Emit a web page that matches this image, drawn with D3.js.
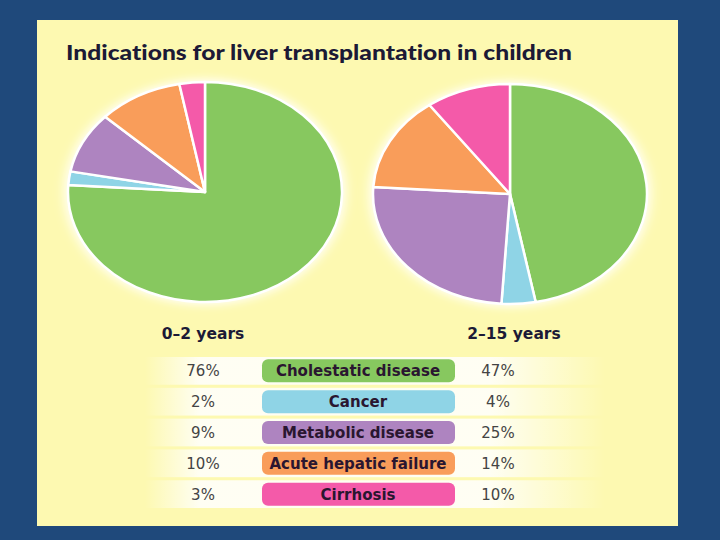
<!DOCTYPE html>
<html>
<head>
<meta charset="utf-8">
<script src="https://cdn.jsdelivr.net/npm/d3@7"></script>
<style>
    body { margin: 0; background: #1f497b; }
    svg { display: block; }
</style>
</head>
<body>
<div id="chart"></div>
<script>
// data
var causes = ["Cholestatic disease", "Cancer", "Metabolic disease", "Acute hepatic failure", "Cirrhosis"];
var young = [76, 2, 9, 10, 3];   // 0-2 years
var older = [47, 4, 25, 14, 10]; // 2-15 years
var groups = ["0\u20132 years", "2\u201315 years"];
var colours = ["#87c85f", "#8fd4e6", "#ae84c0", "#f99d5a", "#f45aa9"];

var width = 720, height = 540;

var svg = d3.select("#chart")
    .append("svg")
    .attr("width", width)
    .attr("height", height);

var defs = svg.append("defs");
defs.append("filter").attr("id", "glow")
    .attr("x", "-20%").attr("y", "-20%").attr("width", "140%").attr("height", "140%")
    .append("feGaussianBlur").attr("stdDeviation", 6);

var bandGrad = defs.append("linearGradient").attr("id", "band");
bandGrad.append("stop").attr("offset", "0%").attr("stop-color", "#fff").attr("stop-opacity", 0);
bandGrad.append("stop").attr("offset", "12%").attr("stop-color", "#fff").attr("stop-opacity", 0.85);
bandGrad.append("stop").attr("offset", "75%").attr("stop-color", "#fff").attr("stop-opacity", 0.85);
bandGrad.append("stop").attr("offset", "100%").attr("stop-color", "#fff").attr("stop-opacity", 0);

// panel
svg.append("rect")
    .attr("x", 37).attr("y", 20)
    .attr("width", 641).attr("height", 506)
    .attr("fill", "#fdf9b1");

svg.append("text")
    .attr("x", 66).attr("y", 60)
    .style("font-family", "Lato, sans-serif")
    .style("font-weight", "900")
    .style("font-size", "21px")
    .style("font-variant-ligatures", "none")
    .attr("textLength", 506)
    .attr("lengthAdjust", "spacingAndGlyphs")
    .attr("fill", "#1c1a36")
    .text("Indications for liver transplantation in children");

// pies
var rx = 137, ry = 110;
var pie = d3.pie().sort(null).value(function (d) { return d; });
var arc = d3.arc().innerRadius(0).outerRadius(rx);
var centres = [[205, 192], [510, 194]];

[young, older].forEach(function (values, k) {
    var g = svg.append("g")
        .attr("transform", "translate(" + centres[k][0] + "," + centres[k][1] + ") scale(1," + (ry / rx) + ")");

    g.append("circle")
        .attr("r", rx + 3)
        .attr("fill", "#fff")
        .attr("filter", "url(#glow)");

    g.selectAll(".slice")
        .data(pie(values))
        .enter().append("path")
        .attr("class", "slice")
        .attr("d", arc)
        .attr("fill", function (d, i) { return colours[i]; })
        .attr("stroke", "#fff")
        .attr("stroke-width", 2.5)
        .attr("stroke-linejoin", "round")
        .attr("vector-effect", "non-scaling-stroke");
});

// group captions
var colX = [203, 514];
svg.selectAll(".group")
    .data(groups)
    .enter().append("text")
    .attr("class", "group")
    .attr("x", function (d, i) { return colX[i]; })
    .attr("y", 339)
    .attr("text-anchor", "middle")
    .style("font-family", "'DejaVu Sans', sans-serif")
    .style("font-weight", "bold")
    .style("font-size", "15.5px")
    .attr("fill", "#1c1a36")
    .text(function (d) { return d; });

// table
var y = d3.scaleBand()
    .domain(causes)
    .range([357, 508])
    .paddingInner(0.1);

var rows = svg.selectAll(".row")
    .data(causes)
    .enter().append("g")
    .attr("class", "row")
    .attr("transform", function (d) { return "translate(0," + y(d) + ")"; });

var bh = y.bandwidth();

rows.append("rect")
    .attr("x", 145).attr("width", 460)
    .attr("height", bh)
    .attr("fill", "url(#band)");

rows.append("rect")
    .attr("x", 262).attr("y", bh / 2 - 11.5)
    .attr("width", 193).attr("height", 23)
    .attr("rx", 6)
    .attr("fill", function (d, i) { return colours[i]; });

rows.append("text")
    .attr("x", 358).attr("y", bh / 2 + 5.5)
    .attr("text-anchor", "middle")
    .style("font-family", "'DejaVu Sans', sans-serif")
    .style("font-weight", "bold")
    .style("font-size", "15px")
    .attr("fill", "#2a1630")
    .text(function (d) { return d; });

rows.append("text")
    .attr("x", 203).attr("y", bh / 2 + 5.5)
    .attr("text-anchor", "middle")
    .style("font-family", "'DejaVu Sans', sans-serif")
    .style("font-size", "15px")
    .attr("fill", "#444")
    .text(function (d, i) { return young[i] + "%"; });

rows.append("text")
    .attr("x", 498).attr("y", bh / 2 + 5.5)
    .attr("text-anchor", "middle")
    .style("font-family", "'DejaVu Sans', sans-serif")
    .style("font-size", "15px")
    .attr("fill", "#444")
    .text(function (d, i) { return older[i] + "%"; });
</script>
</body>
</html>
